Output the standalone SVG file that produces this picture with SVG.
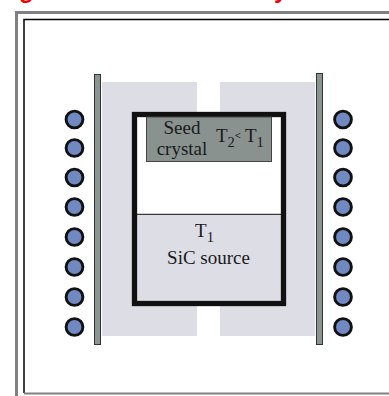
<svg xmlns="http://www.w3.org/2000/svg" width="389" height="396" viewBox="0 0 389 396">
<style>
.t{font-family:"Liberation Serif","Times New Roman",serif;font-size:19px;fill:#1a1a1a;text-anchor:middle}
.l{text-anchor:start}
.s{font-size:14.500px}
.b{font-size:11px;font-weight:bold}
.r{font-family:"Liberation Sans",Arial,sans-serif;font-size:24px;font-weight:bold;fill:#f00000}
.coil{fill:#7089c0;stroke:#111;stroke-width:2.900}
.bar{fill:#8a9492;stroke:#333;stroke-width:1}
.lav{fill:#dddde6}
</style>
<rect width="389" height="396" fill="#fff"/>
<g id="caption"><text class="r" x="19" y="-2">g</text><text class="r" x="274" y="-2">y</text></g>
<g id="frame">
<path d="M16.500 396V12.500H389" fill="none" stroke="#808080" stroke-width="3"/>
<path d="M24 393V19.500H389" fill="none" stroke="#000" stroke-width="1.500"/>
<path d="M24 393.500H389" fill="none" stroke="#808080" stroke-width="2"/>
</g>
<g id="insulation">
<rect class="lav" x="102" y="82" width="95" height="254"/>
<rect class="lav" x="220" y="82" width="95" height="254"/>
</g>
<g id="heater-left"><rect class="bar" x="94.500" y="74.500" width="6" height="270"/></g>
<g id="heater-right"><rect class="bar" x="316.500" y="73.500" width="6" height="271"/></g>
<g id="coils-left">
<circle class="coil" cx="74.500" cy="119.500" r="8.400"/><circle class="coil" cx="74.500" cy="148" r="8.400"/><circle class="coil" cx="74.500" cy="177.500" r="8.400"/><circle class="coil" cx="74.500" cy="207" r="8.400"/><circle class="coil" cx="74.500" cy="237" r="8.400"/><circle class="coil" cx="74.500" cy="267" r="8.400"/><circle class="coil" cx="74.500" cy="297" r="8.400"/><circle class="coil" cx="74.500" cy="327" r="8.400"/>
</g>
<g id="coils-right">
<circle class="coil" cx="343" cy="119.500" r="8.400"/><circle class="coil" cx="343" cy="148" r="8.400"/><circle class="coil" cx="343" cy="177.500" r="8.400"/><circle class="coil" cx="343" cy="207" r="8.400"/><circle class="coil" cx="343" cy="237" r="8.400"/><circle class="coil" cx="343" cy="267" r="8.400"/><circle class="coil" cx="343" cy="297" r="8.400"/><circle class="coil" cx="343" cy="327" r="8.400"/>
</g>
<g id="crucible">
<rect x="134.500" y="114.500" width="149" height="189" fill="#fff"/>
<rect class="lav" x="134.500" y="214" width="149" height="89"/>
<line x1="135" y1="214.300" x2="283" y2="214.300" stroke="#111" stroke-width="1"/>
<rect x="134.500" y="114.500" width="149" height="189" fill="none" stroke="#111" stroke-width="5.300"/>
</g>
<g id="seed-crystal">
<rect x="146.500" y="117" width="125" height="44.500" fill="#8a9290" stroke="#444" stroke-width="1"/>
<text class="t" x="182" y="134">Seed</text>
<text class="t" x="182" y="155">crystal</text>
<text class="t l" x="216" y="142">T<tspan class="s" dy="5">2</tspan><tspan class="b" dy="-8.500">&lt;</tspan><tspan x="245" dy="3.500">T</tspan><tspan class="s" dy="5">1</tspan></text>
</g>
<g id="sic-source">
<text class="t" x="204.500" y="237">T<tspan class="s" dy="5">1</tspan></text>
<text class="t" x="208.500" y="264">SiC source</text>
</g>
</svg>
